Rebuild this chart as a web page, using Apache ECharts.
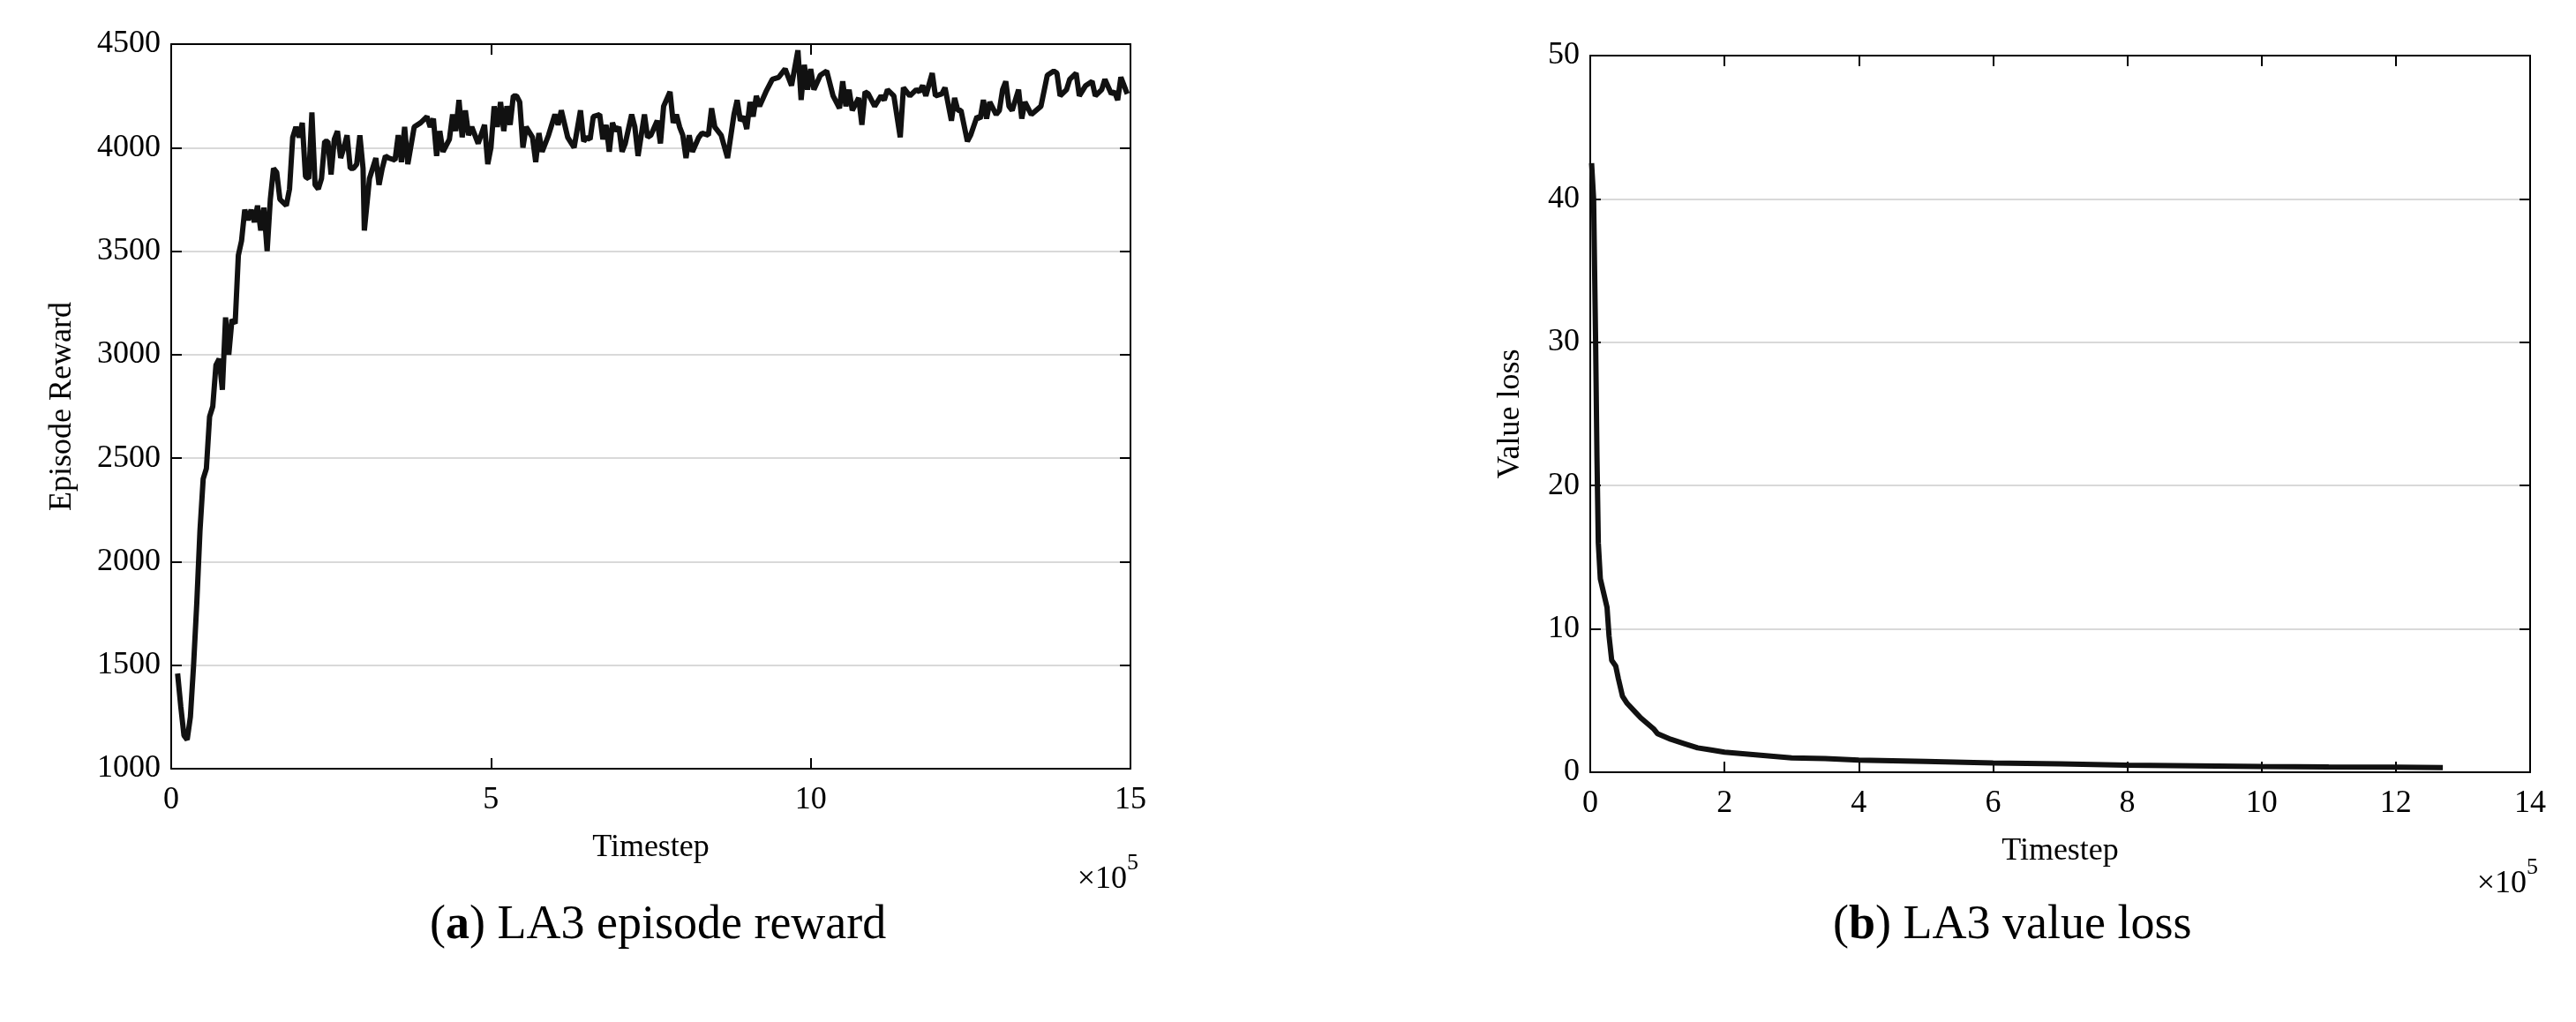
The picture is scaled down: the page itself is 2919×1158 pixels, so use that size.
<!DOCTYPE html>
<html>
<head>
<meta charset="UTF-8">
<script src="https://cdn.jsdelivr.net/npm/echarts@6/dist/echarts.min.js"></script>
<style>html,body{margin:0;background:#fff}#main{width:2919px;height:1158px}</style>
</head>
<body>
<div id="main"></div>
<script>
// episode reward (x in units of 1e5)
var rewardX = [0.1,0.15,0.2,0.25,0.3,0.35,0.4,0.45,0.5,0.55,0.6,0.65,0.7,0.75,0.8,0.85,0.9,0.95,1.0,1.05,1.1,1.15,1.2,1.25,1.3,1.35,1.4,1.45,1.5,1.55,1.6,1.65,1.7,1.8,1.85,1.9,1.95,2.0,2.05,2.1,2.15,2.2,2.25,2.3,2.35,2.4,2.45,2.5,2.55,2.6,2.65,2.7,2.75,2.8,2.85,2.9,2.95,3.0,3.02,3.1,3.2,3.25,3.3,3.35,3.4,3.5,3.55,3.6,3.65,3.7,3.8,3.9,4.0,4.05,4.1,4.15,4.2,4.25,4.35,4.4,4.45,4.5,4.55,4.6,4.65,4.7,4.8,4.9,4.95,5.0,5.05,5.1,5.15,5.2,5.25,5.3,5.35,5.4,5.45,5.5,5.55,5.65,5.7,5.75,5.8,5.9,6.0,6.05,6.1,6.2,6.3,6.4,6.45,6.5,6.55,6.6,6.7,6.75,6.8,6.85,6.9,6.95,7.0,7.05,7.1,7.2,7.25,7.3,7.4,7.45,7.5,7.6,7.65,7.7,7.8,7.85,7.9,7.95,8.0,8.05,8.1,8.15,8.25,8.3,8.4,8.45,8.5,8.6,8.7,8.8,8.85,8.9,8.95,9.0,9.05,9.1,9.15,9.2,9.3,9.4,9.5,9.6,9.7,9.8,9.85,9.9,9.95,10.0,10.05,10.15,10.25,10.35,10.45,10.5,10.55,10.6,10.65,10.75,10.8,10.85,10.9,11.0,11.1,11.15,11.2,11.3,11.4,11.45,11.55,11.65,11.7,11.75,11.8,11.9,11.95,12.05,12.1,12.2,12.25,12.3,12.35,12.45,12.5,12.6,12.65,12.7,12.75,12.8,12.9,12.95,13.0,13.05,13.1,13.15,13.25,13.3,13.35,13.45,13.6,13.7,13.8,13.85,13.9,14.0,14.05,14.15,14.2,14.3,14.4,14.45,14.55,14.6,14.7,14.75,14.8,14.85,14.95];
var rewardY = [1460,1300,1160,1140,1250,1500,1800,2150,2400,2450,2700,2750,2950,2980,2830,3180,3000,3170,3150,3480,3550,3700,3650,3700,3640,3720,3600,3710,3500,3750,3900,3880,3750,3720,3800,4050,4100,4050,4120,3860,3850,4170,3820,3800,3850,4030,4030,3870,4040,4080,3950,4000,4060,3900,3900,3920,4060,3900,3600,3850,3950,3820,3900,3960,3950,3940,4060,3930,4100,3920,4100,4120,4150,4100,4140,3960,4080,3980,4040,4160,4080,4230,4050,4180,4060,4100,4020,4110,3920,4000,4200,4100,4220,4080,4200,4110,4250,4250,4220,4000,4100,4050,3930,4070,3980,4060,4160,4110,4180,4050,4000,4180,4030,4050,4040,4150,4160,4040,4110,3980,4120,4080,4100,3980,4020,4160,4100,3960,4160,4050,4060,4130,4020,4200,4270,4120,4160,4100,4060,3950,4060,3980,4050,4070,4060,4190,4100,4060,3950,4160,4230,4130,4150,4090,4220,4150,4250,4200,4270,4330,4340,4380,4300,4470,4230,4400,4280,4380,4280,4350,4370,4250,4190,4320,4200,4280,4180,4240,4110,4270,4260,4200,4250,4230,4280,4250,4050,4290,4250,4280,4270,4300,4250,4360,4250,4260,4290,4130,4240,4180,4180,4030,4060,4150,4140,4230,4140,4220,4160,4180,4280,4320,4200,4180,4280,4140,4220,4160,4200,4350,4370,4360,4250,4280,4330,4360,4250,4300,4320,4250,4280,4330,4260,4270,4230,4340,4260,4230,4160,4170,4140,4180,4170];
// value loss
var lossX = [0.02,0.05,0.08,0.1,0.12,0.15,0.2,0.25,0.28,0.32,0.38,0.42,0.48,0.55,0.65,0.75,0.85,0.95,1.0,1.2,1.4,1.6,1.8,2.0,2.5,3.0,3.5,4.0,5.0,6.0,7.0,8.0,9.0,10.0,11.0,12.0,12.7];
var lossY = [42.5,40,30,22,16,13.5,12.5,11.5,9.5,7.8,7.4,6.5,5.3,4.8,4.3,3.8,3.4,3.0,2.7,2.3,2.0,1.7,1.55,1.4,1.2,1.0,0.95,0.85,0.75,0.65,0.58,0.5,0.45,0.4,0.37,0.35,0.33];

var font = 'Liberation Serif';
function zip(a, b) { return a.map(function (v, i) { return [v, b[i]]; }); }
var line = {onZero: false, lineStyle: {color: '#000', width: 2}};
var tick = {show: true, inside: true, length: 12, lineStyle: {color: '#000', width: 2}};

function xAxisMain(grid, max, interval) {
    return {
        gridIndex: grid, type: 'value', min: 0, max: max, interval: interval, position: 'bottom',
        name: 'Timestep', nameLocation: 'middle', nameGap: 72,
        nameTextStyle: {fontFamily: font, fontSize: 36, color: '#000'},
        axisLine: line, axisTick: tick,
        axisLabel: {fontFamily: font, fontSize: 36, color: '#000', margin: 18, formatter: function (v) { return String(v); }},
        splitLine: {show: false}
    };
}
function mirror(grid, min, max, interval, pos) {
    return {
        gridIndex: grid, type: 'value', min: min, max: max, interval: interval, position: pos,
        axisLine: {show: true, onZero: false, lineStyle: {color: '#000', width: 2}},
        axisTick: tick, axisLabel: {show: false}, splitLine: {show: false}
    };
}
function yAxisMain(grid, min, max, interval, name, gap) {
    return {
        gridIndex: grid, type: 'value', min: min, max: max, interval: interval, position: 'left',
        name: name, nameLocation: 'middle', nameGap: gap,
        nameTextStyle: {fontFamily: font, fontSize: 36, color: '#000'},
        axisLine: {show: true, onZero: false, lineStyle: {color: '#000', width: 2}}, axisTick: tick,
        axisLabel: {fontFamily: font, fontSize: 36, color: '#000', margin: 12, formatter: function (v) { return String(v); }},
        splitLine: {show: true, lineStyle: {color: '#d9d9d9', width: 2}}
    };
}

var chart = echarts.init(document.getElementById('main'));
chart.setOption({
    animation: false,
    grid: [
        {left: 194, top: 50, width: 1087, height: 821},
        {left: 1802, top: 63, width: 1065, height: 812}
    ],
    xAxis: [
        xAxisMain(0, 15, 5), mirror(0, 0, 15, 5, 'top'),
        xAxisMain(1, 14, 2), mirror(1, 0, 14, 2, 'top')
    ],
    yAxis: [
        yAxisMain(0, 1000, 4500, 500, 'Episode Reward', 105), mirror(0, 1000, 4500, 500, 'right'),
        yAxisMain(1, 0, 50, 10, 'Value loss', 72), mirror(1, 0, 50, 10, 'right')
    ],
    series: [
        {type: 'line', xAxisIndex: 0, yAxisIndex: 0, data: zip(rewardX, rewardY), showSymbol: false,
         lineStyle: {color: '#111', width: 6}},
        {type: 'line', xAxisIndex: 2, yAxisIndex: 2, data: zip(lossX, lossY), showSymbol: false,
         lineStyle: {color: '#111', width: 6}}
    ],
    graphic: [
        {type: 'text', right: 2919 - 1290, top: 965, style: {text: '{m|×10}{s|5}', rich: {
            m: {fontFamily: font, fontSize: 36, fill: '#000', padding: [14, 0, 0, 0]},
            s: {fontFamily: font, fontSize: 26, fill: '#000', verticalAlign: 'top'}}}},
        {type: 'text', right: 2919 - 2876, top: 970, style: {text: '{m|×10}{s|5}', rich: {
            m: {fontFamily: font, fontSize: 36, fill: '#000', padding: [14, 0, 0, 0]},
            s: {fontFamily: font, fontSize: 26, fill: '#000', verticalAlign: 'top'}}}},
        {type: 'text', left: 487, top: 1022, style: {text: '({b|a}) LA3 episode reward',
            fontFamily: font, fontSize: 54, fill: '#000', rich: {b: {fontFamily: font, fontSize: 54, fontWeight: 'bold', fill: '#000'}}}},
        {type: 'text', left: 2077, top: 1022, style: {text: '({b|b}) LA3 value loss',
            fontFamily: font, fontSize: 54, fill: '#000', rich: {b: {fontFamily: font, fontSize: 54, fontWeight: 'bold', fill: '#000'}}}}
    ]
});
</script>
</body>
</html>
